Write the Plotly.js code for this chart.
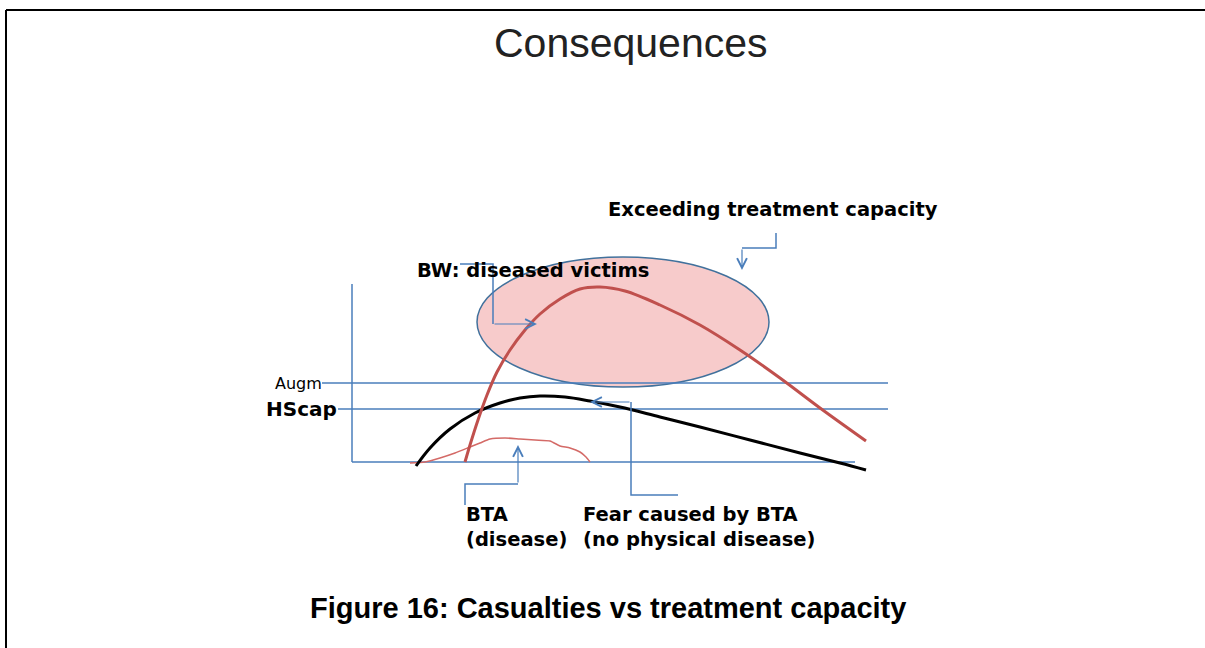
<!DOCTYPE html>
<html>
<head>
<meta charset="utf-8">
<script src="https://cdn.plot.ly/plotly-3.0.1.min.js"></script>
<style>html,body{margin:0;padding:0;background:#fff;}#chart{width:1205px;height:648px;}</style>
</head>
<body>
<div id="chart"></div>
<script>
// Diagram coordinates (x to the right, y downward)
const fearX = [416, 430, 450, 475, 500, 520, 540, 565, 590, 620, 660, 700, 750, 800, 840, 866];
const fearY = [466, 448, 429, 413, 403, 398, 396, 397, 401, 407, 417, 427, 440, 453, 463, 470];

const bwX = [465, 470, 478, 487, 497, 510, 525, 540, 560, 580, 600, 625, 660, 700, 740, 780, 820, 866];
const bwY = [462, 445, 420, 395, 372, 350, 330, 314, 299, 289, 287, 291, 305, 325, 350, 378, 408, 441];

const btaX = [410, 425, 440, 455, 470, 480, 490, 505, 520, 535, 550, 560, 570, 580, 586, 590];
const btaY = [463, 462, 458, 453, 447, 443, 439, 438, 439, 440, 441, 446, 448, 452, 457, 462];

const axisOrigin = [352, 462];
const axisTop = 284;
const baselineEnd = 855;
const augmLevel = 383;
const hscapLevel = 409;
const capLineEnd = 888;

const ellipseBox = [477, 257, 769, 387];

const titleText = "Consequences";
const captionText = "Figure 16: Casualties vs treatment capacity";
const labels = {
  augm: "Augm",
  hscap: "HScap",
  exceed: "Exceeding treatment capacity",
  bw: "BW: diseased victims",
  bta: "BTA<br>(disease)",
  fear: "Fear caused by BTA<br>(no physical disease)"
};

// callout connectors
const exceedLineX = [776, 776, 742];
const exceedLineY = [233, 248, 248];
const exceedArrow = [742, 248, 742, 270];
const bwLineX = [460, 493, 493];
const bwLineY = [264, 264, 324];
const bwArrow = [493, 324, 537, 324];
const btaLineX = [465, 465, 518];
const btaLineY = [505, 484, 484];
const btaArrow = [518, 484, 518, 445];
const fearLineX = [678, 631, 631];
const fearLineY = [495, 495, 402];
const fearArrow = [631, 402, 590, 402];

const blue = "#4a7ebb";
const red = "#c0504d";

const traces = [
  {x: btaX, y: btaY, mode: "lines", line: {color: "#d46a67", width: 1.5, shape: "spline", smoothing: 0.6}, hoverinfo: "skip"},
  {x: fearX, y: fearY, mode: "lines", line: {color: "#000", width: 3, shape: "spline"}, hoverinfo: "skip"},
  {x: bwX, y: bwY, mode: "lines", line: {color: red, width: 3, shape: "spline"}, hoverinfo: "skip"},
  {x: exceedLineX, y: exceedLineY, mode: "lines", line: {color: blue, width: 1.5}, hoverinfo: "skip"},
  {x: bwLineX, y: bwLineY, mode: "lines", line: {color: blue, width: 1.5}, hoverinfo: "skip"},
  {x: btaLineX, y: btaLineY, mode: "lines", line: {color: blue, width: 1.5}, hoverinfo: "skip"},
  {x: fearLineX, y: fearLineY, mode: "lines", line: {color: blue, width: 1.5}, hoverinfo: "skip"}
];

function arrow(a) {
  return {x: a[2], y: a[3], ax: a[0], ay: a[1], xref: "x", yref: "y", axref: "x", ayref: "y",
    text: "", showarrow: true, arrowhead: 5, arrowsize: 1.6, arrowwidth: 1.2, arrowcolor: blue};
}

const shapes = [
  {type: "line", xref: "x", yref: "y", x0: 6, y0: 10, x1: 1205, y1: 10, line: {color: "#000", width: 2}},
  {type: "line", xref: "x", yref: "y", x0: 6, y0: 10, x1: 6, y1: 648, line: {color: "#000", width: 2}},
  {type: "circle", xref: "x", yref: "y", layer: "below", x0: ellipseBox[0], y0: ellipseBox[1], x1: ellipseBox[2], y1: ellipseBox[3],
    fillcolor: "#f7cbcb", line: {color: "#41719c", width: 1.5}},
  {type: "line", xref: "x", yref: "y", layer: "below", x0: axisOrigin[0], y0: axisTop, x1: axisOrigin[0], y1: axisOrigin[1], line: {color: blue, width: 1.5}},
  {type: "line", xref: "x", yref: "y", layer: "below", x0: axisOrigin[0], y0: axisOrigin[1], x1: baselineEnd, y1: axisOrigin[1], line: {color: blue, width: 1.5}},
  {type: "line", xref: "x", yref: "y", layer: "below", x0: 322, y0: augmLevel, x1: capLineEnd, y1: augmLevel, line: {color: blue, width: 1.5}},
  {type: "line", xref: "x", yref: "y", layer: "below", x0: 338, y0: hscapLevel, x1: capLineEnd, y1: hscapLevel, line: {color: blue, width: 1.5}}
];

const calloutFont = {family: "DejaVu Sans", size: 19.5, color: "#000"};

const annotations = [
  {x: 631, y: 43, xref: "x", yref: "y", text: titleText, showarrow: false, xanchor: "center", yanchor: "middle",
    font: {family: "Liberation Sans", size: 41, color: "#222"}},
  {x: 608, y: 608, xref: "x", yref: "y", text: "<b>" + captionText + "</b>", showarrow: false, xanchor: "center", yanchor: "middle",
    font: {family: "Liberation Sans", size: 29, color: "#000"}},
  {x: 273, y: 383, xref: "x", yref: "y", text: labels.augm, showarrow: false, xanchor: "left", yanchor: "middle",
    font: {family: "DejaVu Sans", size: 16, color: "#000"}},
  {x: 264, y: 409, xref: "x", yref: "y", text: "<b>" + labels.hscap + "</b>", showarrow: false, xanchor: "left", yanchor: "middle",
    font: {family: "DejaVu Sans", size: 20, color: "#000"}},
  {x: 606, y: 209, xref: "x", yref: "y", text: "<b>" + labels.exceed + "</b>", showarrow: false, xanchor: "left", yanchor: "middle", font: calloutFont},
  {x: 415, y: 270, xref: "x", yref: "y", text: "<b>" + labels.bw + "</b>", showarrow: false, xanchor: "left", yanchor: "middle", font: calloutFont},
  {x: 464, y: 527, xref: "x", yref: "y", text: "<b>" + labels.bta + "</b>", showarrow: false, xanchor: "left", yanchor: "middle", align: "left", font: calloutFont},
  {x: 581, y: 527, xref: "x", yref: "y", text: "<b>" + labels.fear + "</b>", showarrow: false, xanchor: "left", yanchor: "middle", align: "left", font: calloutFont},
  arrow(exceedArrow), arrow(bwArrow), arrow(btaArrow), arrow(fearArrow)
];

const layout = {
  width: 1205, height: 648,
  margin: {l: 0, r: 0, t: 0, b: 0},
  paper_bgcolor: "#fff", plot_bgcolor: "#fff",
  showlegend: false,
  xaxis: {range: [0, 1205], visible: false, fixedrange: true},
  yaxis: {range: [648, 0], visible: false, fixedrange: true},
  shapes: shapes,
  annotations: annotations
};

Plotly.newPlot("chart", traces, layout, {displayModeBar: false, staticPlot: true});
</script>
</body>
</html>
